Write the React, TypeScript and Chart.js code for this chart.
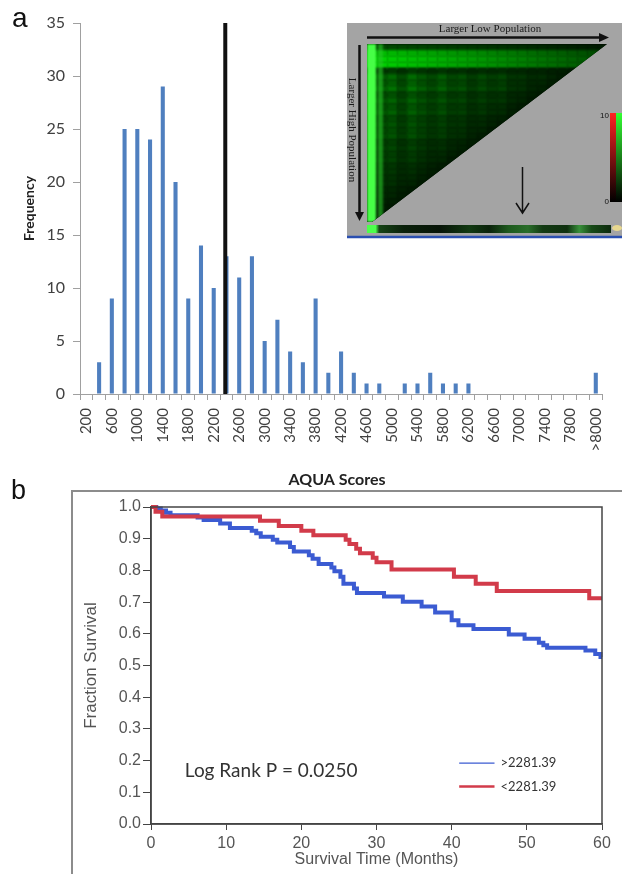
import React, { useEffect, useRef } from 'react';
import { Chart, registerables } from 'chart.js';

Chart.register(...registerables);

// ---------- Panel a: histogram of AQUA scores ----------
const binLabels = ['200','400','600','800','1000','1200','1400','1600','1800','2000','2200','2400','2600','2800','3000','3200','3400','3600','3800','4000','4200','4400','4600','4800','5000','5200','5400','5600','5800','6000','6200','6400','6600','6800','7000','7200','7400','7600','7800','8000','>8000'];
const frequencies = [0,3,9,25,25,24,29,20,9,14,10,13,11,13,5,7,4,3,9,2,4,2,1,1,0,1,1,2,1,1,1,0,0,0,0,0,0,0,0,0,2];
const binWidth = 200;
const cutoff = 2281.39;
const freqMax = 35;
const freqStep = 5;

// ---------- Panel b: Kaplan-Meier survival ----------
const groupLabels = ['>2281.39', '<2281.39'];
const highTimes = [0,0.7,1.3,2.0,2.6,6.2,7.0,9.2,10.5,13.4,14.0,14.6,16.2,16.8,18.5,19.0,21.0,21.5,22.3,24.0,24.4,25.2,25.6,27.0,27.4,31.0,33.5,36.0,37.8,40.0,40.9,42.9,47.6,49.7,51.6,52.2,52.7,57.8,59.1,59.8,60];
const highSurv  = [1.0,0.995,0.989,0.982,0.974,0.967,0.959,0.948,0.934,0.925,0.917,0.906,0.897,0.888,0.874,0.860,0.848,0.837,0.820,0.809,0.797,0.780,0.758,0.743,0.729,0.718,0.701,0.686,0.667,0.643,0.627,0.615,0.598,0.584,0.572,0.564,0.556,0.547,0.536,0.527,0.527];
const lowTimes = [0,0.6,1.5,14.5,17.0,20.0,21.6,25.9,26.4,27.3,27.8,29.5,30.0,32.0,40.3,43.2,46.0,58.3,60];
const lowSurv  = [1.0,0.985,0.970,0.957,0.940,0.925,0.911,0.897,0.883,0.868,0.854,0.840,0.826,0.803,0.780,0.758,0.735,0.712,0.712];
const logRankText = 'Log Rank P = 0.0250';

const BLUE = '#3b5bd2';
const RED = '#d23b4a';

const cutoffPlugin = {
  id: 'cutoffLine',
  afterDatasetsDraw(chart: any) {
    const { ctx, scales } = chart;
    const x = scales.x.getPixelForValue(cutoff / binWidth - 0.5);
    const y0 = scales.y.getPixelForValue(0);
    const y1 = scales.y.getPixelForValue(scales.y.max);
    ctx.save();
    ctx.strokeStyle = '#111';
    ctx.lineWidth = 4;
    ctx.beginPath();
    ctx.moveTo(x, y0);
    ctx.lineTo(x, y1);
    ctx.stroke();
    ctx.restore();
  },
};

// decorative texture for the inset image (not data)
const colTex = [1.0,0.7,0.9,0.6,1.0,0.8,0.65,0.95,0.7,0.85,0.6,0.9,0.75,1.0,0.7,0.8,0.6,0.9,0.7,0.85,0.65,0.8,0.7,0.9];
const rowTex = [0.6,0.9,1.0,1.0,0.3,0.8,0.7,0.95,0.6,0.85,0.7,0.9,0.65,0.8,0.75,0.9,0.6,0.8,0.7,0.85,0.65,0.75,0.7,0.8,0.6,0.7,0.65,0.75,0.6,0.7];

function drawInset(ctx: CanvasRenderingContext2D) {
  ctx.save();
  ctx.fillStyle = '#a4a4a4';
  ctx.fillRect(347, 23, 275, 214);

  const L = 367, T = 44, R = 607, B = 222;
  ctx.save();
  ctx.beginPath();
  ctx.moveTo(L, T);
  ctx.lineTo(R, T);
  ctx.lineTo(L + 5, B);
  ctx.lineTo(L, B);
  ctx.closePath();
  ctx.clip();
  ctx.fillStyle = '#000';
  ctx.fillRect(L, T, R - L, B - T);
  ctx.filter = 'blur(1.2px)';
  const cw = (R - L) / colTex.length;
  const rh = (B - T) / rowTex.length;
  for (let i = 0; i < colTex.length; i++) {
    for (let j = 0; j < rowTex.length; j++) {
      const u = (i + 0.5) / colTex.length;
      const v = (j + 0.5) / rowTex.length;
      const depth = Math.min(1, u + v);
      let g = 0.1 + 0.55 * Math.pow(1 - depth, 0.7) * colTex[i] * rowTex[j];
      if (j >= 1 && j <= 3) g = Math.max(g, (0.85 - 0.55 * u) * rowTex[j]);
      if (j === 0) g = 0.3 - 0.2 * u;
      const gv = Math.round(255 * Math.min(1, g));
      ctx.fillStyle = `rgb(0,${gv},0)`;
      ctx.fillRect(L + i * cw, T + j * rh, cw + 1, rh + 1);
    }
  }
  // bright left columns
  ctx.fillStyle = 'rgb(70,255,70)';
  ctx.fillRect(L, T, 9, B - T);
  ctx.fillStyle = 'rgba(40,200,40,0.6)';
  ctx.fillRect(L + 11, T, 5, B - T);
  ctx.filter = 'none';
  ctx.restore();

  // bottom strip
  const sg = ctx.createLinearGradient(367, 0, 611, 0);
  const stops: [number, string][] = [[0,'#4cff4c'],[0.035,'#4cff4c'],[0.05,'#164416'],[0.15,'#0a200a'],[0.3,'#071407'],[0.42,'#123a12'],[0.5,'#0a220a'],[0.58,'#1e5a1e'],[0.66,'#2a6e2a'],[0.72,'#133a13'],[0.82,'#0f300f'],[0.87,'#38903a'],[0.92,'#174a17'],[1,'#0d2a0d']];
  stops.forEach(([o, c]) => sg.addColorStop(o, c));
  ctx.fillStyle = sg;
  ctx.fillRect(367, 225, 244, 8);

  // top arrow + label
  ctx.strokeStyle = '#111';
  ctx.fillStyle = '#111';
  ctx.lineWidth = 2.5;
  ctx.beginPath();
  ctx.moveTo(367, 37.5);
  ctx.lineTo(602, 37.5);
  ctx.stroke();
  ctx.beginPath();
  ctx.moveTo(599, 33);
  ctx.lineTo(609, 37.5);
  ctx.lineTo(599, 42);
  ctx.closePath();
  ctx.fill();
  ctx.font = '11px "Liberation Serif"';
  ctx.textAlign = 'center';
  ctx.textBaseline = 'middle';
  ctx.fillStyle = '#1a1a1a';
  ctx.fillText('Larger Low Population', 490, 29.5);

  // left arrow + label
  ctx.fillStyle = '#111';
  ctx.beginPath();
  ctx.moveTo(359.5, 45);
  ctx.lineTo(359.5, 214);
  ctx.stroke();
  ctx.beginPath();
  ctx.moveTo(355, 212);
  ctx.lineTo(359.5, 221);
  ctx.lineTo(364, 212);
  ctx.closePath();
  ctx.fill();
  ctx.save();
  ctx.translate(351.5, 130);
  ctx.rotate(Math.PI / 2);
  ctx.fillStyle = '#1a1a1a';
  ctx.fillText('Larger High Population', 0, 0);
  ctx.restore();

  // down arrow
  ctx.lineWidth = 1.5;
  ctx.beginPath();
  ctx.moveTo(522.5, 167);
  ctx.lineTo(522.5, 212);
  ctx.moveTo(516, 203);
  ctx.lineTo(522.5, 213);
  ctx.lineTo(529, 203);
  ctx.stroke();

  // colour bar
  const rg = ctx.createLinearGradient(0, 113, 0, 202);
  rg.addColorStop(0, '#ff2222');
  rg.addColorStop(1, '#000000');
  ctx.fillStyle = rg;
  ctx.fillRect(610, 113, 6, 89);
  const gg = ctx.createLinearGradient(0, 113, 0, 202);
  gg.addColorStop(0, '#33ff33');
  gg.addColorStop(1, '#000000');
  ctx.fillStyle = gg;
  ctx.fillRect(616, 113, 6, 89);
  ctx.fillStyle = '#111';
  ctx.font = '8px "Liberation Sans"';
  ctx.textAlign = 'right';
  ctx.fillText('10', 609, 116);
  ctx.fillText('0', 609, 202);

  // small yellow mark
  ctx.fillStyle = '#e8d890';
  ctx.beginPath();
  ctx.ellipse(617, 228, 5, 3, 0, 0, Math.PI * 2);
  ctx.fill();

  // blue base line
  ctx.strokeStyle = '#2a4fb0';
  ctx.lineWidth = 2.5;
  ctx.beginPath();
  ctx.moveTo(347, 237);
  ctx.lineTo(622, 237);
  ctx.stroke();
  ctx.restore();
}

const insetPlugin = {
  id: 'inset',
  afterDraw(chart: any) {
    drawInset(chart.ctx);
  },
};

const framePlugin = {
  id: 'kmFrame',
  beforeDraw(chart: any) {
    const { ctx, width, height } = chart;
    ctx.save();
    ctx.strokeStyle = '#8c8c8c';
    ctx.lineWidth = 2;
    ctx.beginPath();
    ctx.moveTo(72, height);
    ctx.lineTo(72, 36);
    ctx.lineTo(width, 36);
    ctx.stroke();
    ctx.restore();
  },
  afterDraw(chart: any) {
    const { ctx, chartArea, scales } = chart;
    ctx.save();
    ctx.strokeStyle = '#444';
    ctx.lineWidth = 1.5;
    ctx.strokeRect(chartArea.left, chartArea.top, chartArea.right - chartArea.left, chartArea.bottom - chartArea.top);

    const xs = scales.x, ys = scales.y;
    ctx.fillStyle = '#333';
    ctx.font = '19px Lato';
    ctx.textAlign = 'left';
    ctx.textBaseline = 'middle';
    ctx.fillText(logRankText, xs.getPixelForValue(4.5), ys.getPixelForValue(0.167));

    const colors = [BLUE, RED];
    const widths = [1.2, 2.5];
    const ly = [0.192, 0.118];
    ctx.font = '13px Lato';
    groupLabels.forEach((lab, i) => {
      const y = ys.getPixelForValue(ly[i]);
      ctx.strokeStyle = colors[i];
      ctx.lineWidth = widths[i];
      ctx.beginPath();
      ctx.moveTo(xs.getPixelForValue(41), y);
      ctx.lineTo(xs.getPixelForValue(45.7), y);
      ctx.stroke();
      ctx.fillStyle = '#333';
      ctx.fillText(lab, xs.getPixelForValue(46.5), y);
    });
    ctx.restore();
  },
};

export default function App() {
  const aRef = useRef<HTMLCanvasElement>(null);
  const bRef = useRef<HTMLCanvasElement>(null);

  useEffect(() => {
    const tickFontA = { family: 'Lato', size: 16 };
    const chartA = new Chart(aRef.current as HTMLCanvasElement, {
      type: 'bar',
      data: {
        labels: binLabels,
        datasets: [
          {
            data: frequencies,
            backgroundColor: '#4f7fbf',
            barPercentage: 0.32,
            categoryPercentage: 1,
          },
        ],
      },
      options: {
        animation: false,
        responsive: false,
        maintainAspectRatio: false,
        layout: { padding: { left: 0, top: 23, right: 17, bottom: 0 } },
        plugins: { legend: { display: false }, tooltip: { enabled: false } },
        scales: {
          x: {
            offset: true,
            grid: { offset: true, drawOnChartArea: false, tickLength: 6, color: '#a0a0a0' },
            border: { color: '#a0a0a0' },
            ticks: {
              autoSkip: false,
              minRotation: 90,
              maxRotation: 90,
              padding: 8,
              color: '#404040',
              font: { family: 'Lato', size: 15 },
              callback: (_v: any, i: number) => (i % 2 === 0 ? binLabels[i] : ''),
            },
            afterFit: (s: any) => {
              s.height = 76;
            },
          },
          y: {
            min: 0,
            max: freqMax,
            grid: { drawOnChartArea: false, tickLength: 7, color: '#a0a0a0' },
            border: { color: '#a0a0a0' },
            ticks: { stepSize: freqStep, padding: 8, color: '#404040', font: tickFontA },
            title: {
              display: true,
              text: 'Frequency',
              color: '#222',
              font: { family: 'Lato', size: 14, weight: 'bold' },
              padding: { top: 21, bottom: 0 },
            },
            afterFit: (s: any) => {
              s.width = 80;
            },
          },
        },
      } as any,
      plugins: [cutoffPlugin, insetPlugin],
    });

    const highPts = highTimes.map((t, i) => ({ x: t, y: highSurv[i] }));
    const lowPts = lowTimes.map((t, i) => ({ x: t, y: lowSurv[i] }));
    const tickFontB = { family: 'Liberation Sans', size: 16 };
    const chartB = new Chart(bRef.current as HTMLCanvasElement, {
      type: 'line',
      data: {
        datasets: [
          { label: groupLabels[1], data: lowPts, borderColor: RED, borderWidth: 4, stepped: 'before', pointRadius: 0, fill: false, clip: 4 },
          { label: groupLabels[0], data: highPts, borderColor: BLUE, borderWidth: 4, stepped: 'before', pointRadius: 0, fill: false, clip: 4 },
        ],
      },
      options: {
        animation: false,
        responsive: false,
        maintainAspectRatio: false,
        layout: { padding: { left: 72, top: 15, right: 20, bottom: 0 } },
        plugins: {
          legend: { display: false },
          tooltip: { enabled: false },
          title: {
            display: true,
            text: 'AQUA Scores',
            color: '#222',
            font: { family: 'Lato', size: 16, weight: 'bold' },
            padding: { top: 0, bottom: 17.8 },
          },
        },
        scales: {
          x: {
            type: 'linear',
            min: 0,
            max: 60,
            grid: { drawOnChartArea: false, tickLength: 6, color: '#444' },
            border: { color: '#444', width: 1.5 },
            ticks: { stepSize: 10, padding: 4, color: '#555', font: tickFontB },
            title: {
              display: true,
              text: 'Survival Time (Months)',
              color: '#555',
              font: { family: 'Liberation Sans', size: 16 },
              padding: { top: 0, bottom: 4.4 },
            },
            afterFit: (s: any) => {
              s.height = 50;
            },
          },
          y: {
            min: 0,
            max: 1,
            grid: { drawOnChartArea: false, tickLength: 8, color: '#444' },
            border: { color: '#444', width: 1.5 },
            ticks: {
              stepSize: 0.1,
              padding: 2,
              color: '#555',
              font: tickFontB,
              callback: (v: any) => Number(v).toFixed(1),
            },
            title: {
              display: true,
              text: 'Fraction Survival',
              color: '#555',
              font: { family: 'Liberation Sans', size: 17 },
              padding: { top: 9.5, bottom: 0 },
            },
            afterFit: (s: any) => {
              s.width = 79;
            },
          },
        },
      } as any,
      plugins: [framePlugin],
    });

    return () => {
      chartA.destroy();
      chartB.destroy();
    };
  }, []);

  return (
    <div style={{ position: 'absolute', left: 0, top: 0, width: 622, height: 874, background: '#fff', overflow: 'hidden' }}>
      <canvas ref={aRef} width={622} height={470} style={{ position: 'absolute', left: 0, top: 0, width: 622, height: 470 }} />
      <canvas ref={bRef} width={622} height={419} style={{ position: 'absolute', left: 0, top: 455, width: 622, height: 419 }} />
      <div style={{ position: 'absolute', left: 12, top: 4, fontFamily: '"Liberation Sans", Arial, sans-serif', fontSize: 28, lineHeight: 1, color: '#111' }}>a</div>
      <div style={{ position: 'absolute', left: 11, top: 477, fontFamily: '"Liberation Sans", Arial, sans-serif', fontSize: 27, lineHeight: 1, color: '#111' }}>b</div>
    </div>
  );
}
